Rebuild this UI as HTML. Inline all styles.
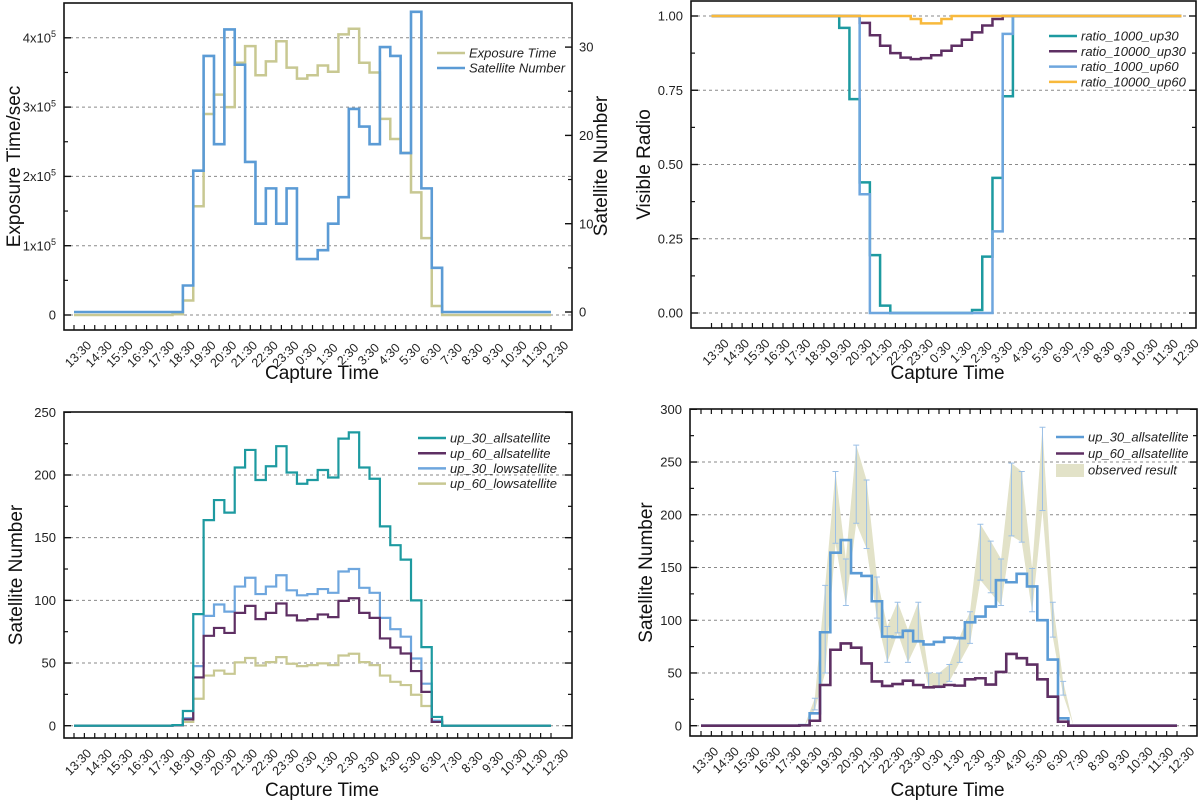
<!DOCTYPE html>
<html><head><meta charset="utf-8">
<style>
html,body{margin:0;padding:0;background:#fff;}
svg{display:block;font-family:"Liberation Sans",Arial,sans-serif;}
</style></head>
<body>
<svg id="chart" width="1200" height="800" viewBox="0 0 1200 800" xmlns="http://www.w3.org/2000/svg"></svg>
<script>
const timeLabels = ["13:30","14:30","15:30","16:30","17:30","18:30","19:30","20:30","21:30","22:30","23:30","0:30","1:30","2:30","3:30","4:30","5:30","6:30","7:30","8:30","9:30","10:30","11:30","12:30"];

// Panel 1 (x1e5 sec, and counts)
const exposureTime = [0,0,0,0,0,0,0,0,0,0,0.01,0.21,1.57,2.9,3.18,3.0,3.64,3.88,3.46,3.66,3.95,3.57,3.41,3.46,3.6,3.51,4.05,4.13,3.64,3.5,2.83,2.54,2.34,1.77,1.11,0.13,0,0,0,0,0,0,0,0,0,0,0];
const satelliteNumber = [0,0,0,0,0,0,0,0,0,0,0,3,16,29,19,32,28,17,10,14,10,14,6,6,7,10,13,23,21,19,30,29,18,34,14,5,0,0,0,0,0,0,0,0,0,0,0];

// Panel 2
const ratio1000up30 = [1,1,1,1,1,1,1,1,1,1,1,1,1,0.96,0.72,0.44,0.195,0.025,0,0,0,0,0,0,0,0,0.01,0.19,0.455,0.73,1,1,1,1,1,1,1,1,1,1,1,1,1,1,1,1,1];
const ratio10000up30 = [1,1,1,1,1,1,1,1,1,1,1,1,1,1,1,0.977,0.935,0.9,0.875,0.86,0.855,0.858,0.868,0.883,0.9,0.92,0.945,0.968,0.99,1,1,1,1,1,1,1,1,1,1,1,1,1,1,1,1,1,1];
const ratio1000up60 = [1,1,1,1,1,1,1,1,1,1,1,1,1,1,1,0.4,0,0,0,0,0,0,0,0,0,0,0,0,0.275,0.94,1,1,1,1,1,1,1,1,1,1,1,1,1,1,1,1,1];
const ratio10000up60 = [1,1,1,1,1,1,1,1,1,1,1,1,1,1,1,1,1,1,1,1,0.99,0.975,0.975,0.99,1,1,1,1,1,1,1,1,1,1,1,1,1,1,1,1,1,1,1,1,1,1,1];

// Panel 3
const up30all = [0,0,0,0,0,0,0,0,0,0,0.5,11.7,89,164,180,170,206,220,196,207,223,202,193,196,204,198,229,234,206,197,159,144,132.5,100,62.7,7,0,0,0,0,0,0,0,0,0,0,0];
const up60all = [0,0,0,0,0,0,0,0,0,0,0.3,5,38.5,71.7,78,74,90,95.6,85,90,97.5,88,84,85,88.7,86.6,99.6,101.7,90,86,69.6,62.4,57.6,43.6,27,3,0,0,0,0,0,0,0,0,0,0,0];
const up30low = [0,0,0,0,0,0,0,0,0,0,0.4,6,47.5,87.6,96.7,91,111,118,105,111,120,108,104,105,109,106,123,125,110,106,86,77,71,53.6,33.5,4,0,0,0,0,0,0,0,0,0,0,0];
const up60low = [0,0,0,0,0,0,0,0,0,0,0.2,3,21.5,40,44,41.4,50.5,54,48,50.7,54.7,49.4,47.5,48.3,49.7,48.3,56,57.4,50.7,48.3,40,35,32.4,24.7,15.7,3,0,0,0,0,0,0,0,0,0,0,0];

// Panel 4
const p4up30all = [0,0,0,0,0,0,0,0,0,0,0.5,11.7,88.6,164,176,144.6,142,118,84.5,84,90,80,77,79.4,83.5,83,98,103.5,113,138,136,144,132,100,62.7,7,0,0,0,0,0,0,0,0,0,0,0];
const p4up60all = [0,0,0,0,0,0,0,0,0,0,0.3,4.7,38.6,72,78,74,59,42,37.7,39.5,42.7,38.6,36.4,37,38.6,38,44,45,39,51,68,64,58,44,27.5,3.8,0,0,0,0,0,0,0,0,0,0,0];
const obsLow = [null,null,null,null,null,null,null,null,null,null,0,15,50,173,114,192,168,102,60,88,60,81,36,36,42,60,78,138,126,114,180,174,108,204,84,29,0,null,null,null,null,null,null,null,null,null,null];
const obsHigh = [null,null,null,null,null,null,null,null,null,null,0,26,133,241,158,266,233,141,94,117,91,117,50,50,58,84,108,191,175,158,249,241,149,283,117,42,0,null,null,null,null,null,null,null,null,null,null];

const NS = "http://www.w3.org/2000/svg";
const svg = document.getElementById("chart");
function mk(tag, attrs, parent){
  const e = document.createElementNS(NS, tag);
  for (const k in attrs) e.setAttribute(k, attrs[k]);
  (parent||svg).appendChild(e);
  return e;
}

function makePanel(c){
  const g = mk("g", {});
  
  
  const xAt = i => c.x0 + (c.x46 - c.x0) * i / 46;
  const yAt = v => c.zero - v * c.ppu;
  c.xAt = xAt; c.yAt = yAt; c.g = g;
  c.grid.forEach(v => {
    const l = mk("line", {x1:c.L, x2:c.R, y1:yAt(v), y2:yAt(v), stroke:"#8a8a8a", "stroke-width":1, "stroke-dasharray":"3,3"}, g);
    
    
  });
  const box = mk("rect", {x:c.L, y:c.T, width:c.R-c.L, height:c.B-c.T, fill:"none", stroke:"#111", "stroke-width":1.6}, g);
  
  
  for (let i=0;i<=46;i++){
    const x = xAt(i), len = 5;
    mk("line", {x1:x,x2:x,y1:c.B,y2:c.B-len,stroke:"#111","stroke-width":1.2}, g);
    if (c.topTicks) mk("line", {x1:x,x2:x,y1:c.T,y2:c.T+len,stroke:"#111","stroke-width":1.2}, g);
  }
  timeLabels.forEach((t,k) => {
    const x = xAt(k*2);
    const tx = mk("text", {transform:`translate(${x+4},${c.B+24}) rotate(-45)`, "text-anchor":"middle", "font-size":12.5, fill:"#222", dy:"0.35em"}, g);
    tx.textContent = t;
    
    
  });
  c.yMajor.forEach((v,k) => {
    const y = yAt(v);
    mk("line", {x1:c.L,x2:c.L+7,y1:y,y2:y,stroke:"#111","stroke-width":1.4}, g);
    if (!c.rightAxis) mk("line", {x1:c.R,x2:c.R-7,y1:y,y2:y,stroke:"#111","stroke-width":1.4}, g);
    const tx = mk("text", {x:c.L-8, y:y, "text-anchor":"end", "font-size":13, fill:"#222", dy:"0.35em"}, g);
    if (c.sci && v>0){
      tx.textContent = v + "x10";
      const s = mk("tspan", {dy:"-0.6em","font-size":9}, tx); s.textContent = "5";
    } else tx.textContent = c.yFmt ? c.yFmt(v) : v;
    
    
  });
  c.yMinor.forEach(v => {
    const y = yAt(v);
    mk("line", {x1:c.L,x2:c.L+4,y1:y,y2:y,stroke:"#111","stroke-width":1.2}, g);
    if (!c.rightAxis) mk("line", {x1:c.R,x2:c.R-4,y1:y,y2:y,stroke:"#111","stroke-width":1.2}, g);
  });
  const yt = mk("text", {transform:`translate(${c.yTitleX},${(c.T+c.B)/2}) rotate(-90)`, "text-anchor":"middle", "font-size":19, fill:"#111"}, g);
  yt.textContent = c.yTitle;
  
  
  const xt = mk("text", {x:(c.L+c.R)/2+4, y:c.xTitleY, "text-anchor":"middle", "font-size":19, fill:"#111"}, g);
  xt.textContent = "Capture Time";
  
  
  return c;
}

function stepPath(c, vals, yFn){
  const y = yFn || c.yAt;
  let d = `M${c.xAt(0)},${y(vals[0])}`;
  for (let i=1;i<vals.length;i++){
    const xm = c.xAt(i-0.5);
    d += `H${xm}V${y(vals[i])}`;
  }
  d += `H${c.xAt(vals.length-1)}`;
  return d;
}
function drawSeries(c, vals, color, w, name, yFn){
  const p = mk("path", {d:stepPath(c, vals, yFn), fill:"none", stroke:color, "stroke-width":w, "stroke-linejoin":"miter"}, c.g);
  
  
}
function legend(c, items, lx, ly, dy){
  items.forEach((it,k) => {
    const y = ly + k*dy;
    if (it.band){
      const r = mk("rect", {x:lx, y:y-6, width:28, height:13, fill:it.color}, c.g);
      
      
    } else {
      const l = mk("line", {x1:lx,x2:lx+28,y1:y,y2:y,stroke:it.color,"stroke-width":2.5}, c.g);
      
      
    }
    const t = mk("text", {x:lx+32, y:y, "font-size":13, "font-style":"italic", fill:"#222", dy:"0.35em"}, c.g);
    t.textContent = it.label;
    
    
  });
}

const cBlue="#5b9bd5", cTan="#c8c892", cTeal="#1d9aa0", cPurple="#5e2f63", cYellow="#f8b93c", cLB="#6ea6de", cBand="#e2e2c8";

// Panel 1
const p1 = makePanel({name:"exposure-panel", L:64,R:572,T:3,B:330, x0:74,x46:551, zero:315, ppu:69.3,
  grid:[0,1,2,3,4], yMajor:[0,1,2,3,4], yMinor:[0.5,1.5,2.5,3.5], sci:true, rightAxis:true,
  yTitle:"Exposure Time/sec", yTitleX:20, xTitleY:379});
const yR = v => 312 - v*8.83;
[0,10,20,30].forEach(v => {
  mk("line",{x1:572,x2:565,y1:yR(v),y2:yR(v),stroke:"#111","stroke-width":1.4},p1.g);
  const t = mk("text",{x:579,y:yR(v),"font-size":13,fill:"#222",dy:"0.35em"},p1.g);
  t.textContent = v;
  
  
});
[5,15,25].forEach(v => mk("line",{x1:572,x2:568,y1:yR(v),y2:yR(v),stroke:"#111","stroke-width":1.2},p1.g));
const rt = mk("text",{transform:"translate(607,166) rotate(-90)","text-anchor":"middle","font-size":19,fill:"#111"},p1.g);
rt.textContent = "Satellite Number";


drawSeries(p1, exposureTime, cTan, 2.5, "exposure-time-line");
drawSeries(p1, satelliteNumber, cBlue, 2.6, "satellite-number-line", yR);
legend(p1, [{label:"Exposure Time",color:cTan},{label:"Satellite Number",color:cBlue}], 437, 53, 15);

// Panel 2
const p2 = makePanel({name:"visible-ratio-panel", L:691,R:1196,T:1,B:328, x0:711.5,x46:1181.5, zero:313, ppu:297,
  grid:[0,0.25,0.5,0.75,1], yMajor:[0,0.25,0.5,0.75,1], yMinor:[0.125,0.375,0.625,0.875], yFmt:v=>v.toFixed(2),
  yTitle:"Visible Radio", yTitleX:650, xTitleY:379});
drawSeries(p2, ratio1000up30, cTeal, 2.5, "ratio-1000-up30-line");
drawSeries(p2, ratio10000up30, cPurple, 2.5, "ratio-10000-up30-line");
drawSeries(p2, ratio1000up60, cLB, 2.5, "ratio-1000-up60-line");
drawSeries(p2, ratio10000up60, cYellow, 2.5, "ratio-10000-up60-line");
legend(p2, [{label:"ratio_1000_up30",color:cTeal},{label:"ratio_10000_up30",color:cPurple},{label:"ratio_1000_up60",color:cLB},{label:"ratio_10000_up60",color:cYellow}], 1049, 36, 15.3);

// Panel 3
const p3 = makePanel({name:"satellite-count-panel", L:64,R:572,T:412,B:738, x0:74,x46:551, zero:725.7, ppu:1.2535,
  grid:[0,50,100,150,200], yMajor:[0,50,100,150,200,250], yMinor:[25,75,125,175,225],
  yTitle:"Satellite Number", yTitleX:22, xTitleY:796});
drawSeries(p3, up60low, cTan, 2.2, "up-60-lowsatellite-line");
drawSeries(p3, up30low, cLB, 2.2, "up-30-lowsatellite-line");
drawSeries(p3, up60all, cPurple, 2.2, "up-60-allsatellite-line");
drawSeries(p3, up30all, cTeal, 2.2, "up-30-allsatellite-line");
legend(p3, [{label:"up_30_allsatellite",color:cTeal},{label:"up_60_allsatellite",color:cPurple},{label:"up_30_lowsatellite",color:cLB},{label:"up_60_lowsatellite",color:cTan}], 418, 438, 15.2);

// Panel 4
const p4 = makePanel({name:"observed-comparison-panel", L:690,R:1197,T:409,B:736, x0:701,x46:1177, zero:725.7, ppu:1.0547,
  grid:[0,50,100,150,200,250], yMajor:[0,50,100,150,200,250,300], yMinor:[25,75,125,175,225,275], topTicks:true,
  yTitle:"Satellite Number", yTitleX:652, xTitleY:796});
(function(){
  let up = [], lo = [];
  for (let i=0;i<obsLow.length;i++){
    if (obsLow[i]===null) continue;
    up.push(`${p4.xAt(i)},${p4.yAt(obsHigh[i])}`);
    lo.unshift(`${p4.xAt(i)},${p4.yAt(obsLow[i])}`);
  }
  const band = mk("polygon",{points:up.concat(lo).join(" "), fill:cBand, stroke:"none"}, p4.g);
  
  
  for (let i=0;i<obsLow.length;i++){
    if (obsLow[i]===null || obsHigh[i]===obsLow[i]) continue;
    const x = p4.xAt(i), y1 = p4.yAt(obsHigh[i]), y2 = p4.yAt(obsLow[i]);
    const eb = mk("path",{d:`M${x},${y1}V${y2}M${x-3},${y1}H${x+3}M${x-3},${y2}H${x+3}`, stroke:"#9cc0e6","stroke-width":1,fill:"none"}, p4.g);
    
    
  }
})();
drawSeries(p4, p4up30all, cBlue, 2.6, "p4-up-30-allsatellite-line");
drawSeries(p4, p4up60all, cPurple, 2.6, "p4-up-60-allsatellite-line");
legend(p4, [{label:"up_30_allsatellite",color:cBlue},{label:"up_60_allsatellite",color:cPurple},{label:"observed result",color:cBand,band:true}], 1056, 437, 16.5);
</script>
</body></html>
